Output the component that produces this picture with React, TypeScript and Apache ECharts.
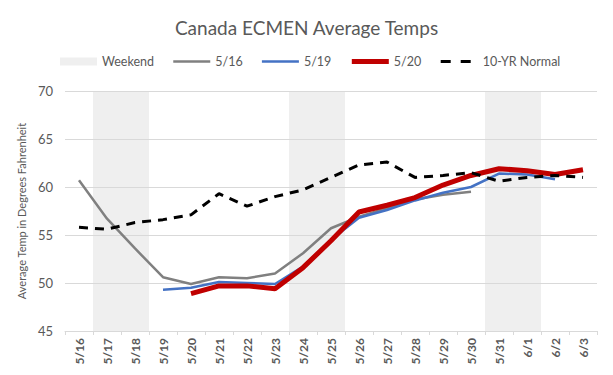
import React, { useEffect, useRef } from "react";
import * as echarts from "echarts";

const categories = ["5/16","5/17","5/18","5/19","5/20","5/21","5/22","5/23","5/24","5/25","5/26","5/27","5/28","5/29","5/30","5/31","6/1","6/2","6/3"];
const weekend = [0,1,1,0,0,0,0,0,1,1,0,0,0,0,0,1,1,0,0];
const run0516 = [60.7,56.7,53.6,50.6,49.9,50.6,50.5,51.0,53.1,55.7,56.9,57.8,58.7,59.2,59.5,null,null,null,null];
const run0519 = [null,null,null,49.3,49.5,50.1,50.0,49.9,51.7,54.5,56.8,57.6,58.6,59.4,60.0,61.4,61.3,60.8,null];
const run0520 = [null,null,null,null,48.9,49.7,49.7,49.4,51.6,54.4,57.4,58.1,58.9,60.2,61.2,61.9,61.7,61.3,61.8];
const normal10 = [55.8,55.6,56.3,56.6,57.1,59.3,58.0,59.0,59.7,61.0,62.3,62.6,61.0,61.2,61.5,60.6,61.0,61.2,61.0];

const FONT = "Lato, 'Open Sans', sans-serif";
const HIDE_DOT = { opacity: 0, color: "rgba(0,0,0,0)", borderWidth: 0 };

export default function App() {
  const ref = useRef<HTMLDivElement>(null);
  useEffect(() => {
    if (!ref.current) return;
    const chart = echarts.init(ref.current, undefined, { renderer: "svg" });
    chart.setOption({
      animation: false,
      backgroundColor: "#ffffff",
      textStyle: { fontFamily: FONT },
      title: {
        text: "Canada ECMEN Average Temps",
        left: "center",
        top: 13,
        textStyle: { fontFamily: FONT, fontSize: 19, fontWeight: "normal", color: "#595959" },
      },
      legend: {
        left: 55,
        top: 50,
        itemWidth: 37,
        itemHeight: 8,
        itemGap: 18,
        textStyle: { fontFamily: FONT, fontSize: 12.5, color: "#595959" },
        data: [
          { name: "Weekend", icon: "rect" },
          { name: "5/16", itemStyle: HIDE_DOT, lineStyle: { width: 2.5 } },
          { name: "5/19", itemStyle: HIDE_DOT, lineStyle: { width: 2.5 } },
          { name: "5/20", itemStyle: HIDE_DOT, lineStyle: { width: 5 } },
          { name: "10-YR Normal", itemStyle: HIDE_DOT, lineStyle: { width: 3, type: [10, 10] } },
        ],
      },
      grid: { left: 65, right: 16, top: 91, bottom: 44, containLabel: false },
      xAxis: {
        type: "category",
        data: categories,
        boundaryGap: true,
        axisLine: { lineStyle: { color: "#d9d9d9" } },
        axisTick: { show: true, length: 4, lineStyle: { color: "#d9d9d9" } },
        axisLabel: { rotate: 90, margin: 7, fontSize: 12, fontWeight: "bold", color: "#595959", fontFamily: FONT },
      },
      yAxis: [
        {
          type: "value",
          min: 45,
          max: 70,
          interval: 5,
          z: 1,
          name: "Average Temp in Degrees Fahrenheit",
          nameLocation: "middle",
          nameGap: 24,
          nameTextStyle: { fontSize: 11, color: "#595959", fontFamily: FONT },
          axisLine: { show: false },
          axisTick: { show: false },
          axisLabel: { fontSize: 13, color: "#595959", margin: 12, fontFamily: FONT },
          splitLine: { lineStyle: { color: "#d9d9d9" } },
        },
        { type: "value", min: 0, max: 1, show: false, splitLine: { show: false } },
      ],
      series: [
        {
          name: "Weekend",
          type: "bar",
          yAxisIndex: 1,
          data: weekend,
          barWidth: "100%",
          barGap: "-100%",
          z: 0,
          itemStyle: { color: "#efefef" },
          silent: true,
        },
        {
          name: "5/16",
          type: "line",
          data: run0516,
          symbol: "none",
          z: 3,
          lineStyle: { color: "#808080", width: 2.5 },
          itemStyle: { color: "#808080" },
        },
        {
          name: "5/19",
          type: "line",
          data: run0519,
          symbol: "none",
          z: 4,
          lineStyle: { color: "#4472c4", width: 2.5 },
          itemStyle: { color: "#4472c4" },
        },
        {
          name: "5/20",
          type: "line",
          data: run0520,
          symbol: "none",
          z: 5,
          lineStyle: { color: "#c00000", width: 5 },
          itemStyle: { color: "#c00000" },
        },
        {
          name: "10-YR Normal",
          type: "line",
          data: normal10,
          symbol: "none",
          z: 6,
          lineStyle: { color: "#000000", width: 3, type: [9, 7] },
          itemStyle: { color: "#000000" },
        },
      ],
    });
    return () => chart.dispose();
  }, []);
  return <div ref={ref} style={{ width: 613, height: 375, position: "absolute", left: 0, top: 0 }} />;
}
